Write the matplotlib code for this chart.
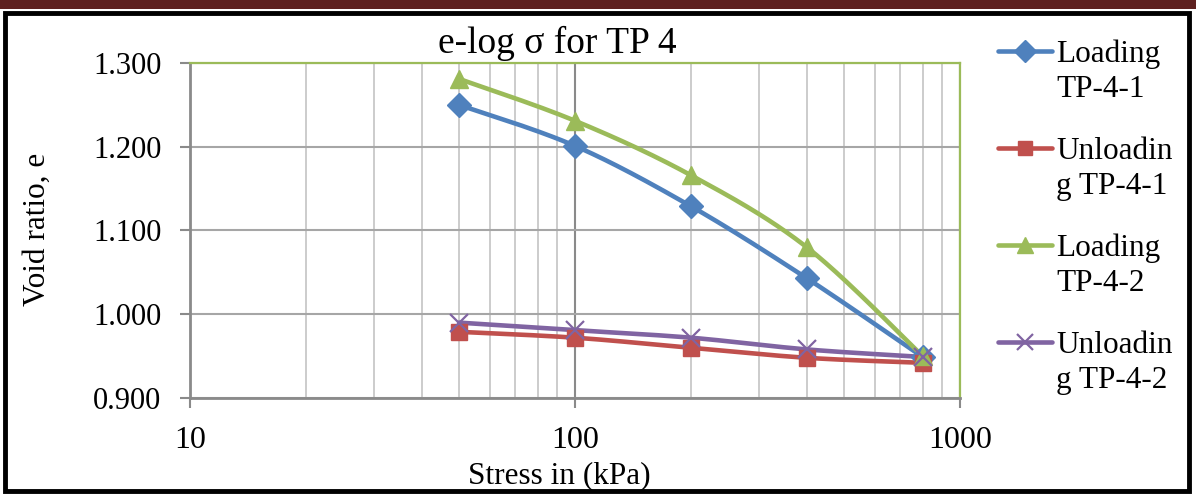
import numpy as np
import matplotlib
matplotlib.use("Agg")
import matplotlib.pyplot as plt
from matplotlib.lines import Line2D
from matplotlib.patches import Rectangle
from matplotlib.ticker import FixedLocator, NullFormatter, FuncFormatter

plt.rcParams['font.family'] = ['Liberation Serif', 'DejaVu Serif']

# Consolidation test data: applied stress (kPa) and void ratio
stress = [50, 100, 200, 400, 800]
loading_1 = [1.250, 1.201, 1.129, 1.043, 0.949]
unloading_1 = [0.979, 0.972, 0.960, 0.948, 0.942]
loading_2 = [1.281, 1.231, 1.166, 1.080, 0.950]
unloading_2 = [0.990, 0.981, 0.972, 0.958, 0.949]

series_labels = ["Loading\nTP-4-1", "Unloadin\ng TP-4-1", "Loading\nTP-4-2", "Unloadin\ng TP-4-2"]
series_colors = ["#4F81BD", "#C0504D", "#9BBB59", "#8064A2"]
series_markers = ["D", "s", "^", "x"]
series_msize = [12, 11.5, 13, 12.5]

x_ticks = [10, 100, 1000]
y_ticks = [0.900, 1.000, 1.100, 1.200, 1.300]
XLIM = (10, 1000)
YLIM = (0.9, 1.3)

W, H = 1196, 495
fig = plt.figure(figsize=(W / 100, H / 100), dpi=100)
ax = fig.add_axes([190 / W, 1 - 398 / H, 770 / W, 335 / H])


def smooth(xs, ys, n=40):
    """Bezier smoothing (Catmull-Rom control points) in display-proportional space."""
    lx0, lx1 = np.log10(XLIM[0]), np.log10(XLIM[1])
    u = (np.log10(xs) - lx0) / (lx1 - lx0) * 770
    v = (np.asarray(ys) - YLIM[0]) / (YLIM[1] - YLIM[0]) * 335
    P = np.column_stack([u, v])
    out = [P[0]]
    m = len(P)
    for i in range(m - 1):
        p0 = P[i - 1] if i > 0 else P[i]
        p1 = P[i]
        p2 = P[i + 1]
        p3 = P[i + 2] if i + 2 < m else P[i + 1]
        c1 = p1 + (p2 - p0) / 6.0
        c2 = p2 - (p3 - p1) / 6.0
        t = np.linspace(0, 1, n)[1:, None]
        seg = ((1 - t) ** 3) * p1 + 3 * ((1 - t) ** 2) * t * c1 + 3 * (1 - t) * t ** 2 * c2 + t ** 3 * p2
        out.extend(seg)
    out = np.array(out)
    sx = 10 ** (out[:, 0] / 770 * (lx1 - lx0) + lx0)
    sy = out[:, 1] / 335 * (YLIM[1] - YLIM[0]) + YLIM[0]
    return sx, sy


def marker_kw(mk, col):
    return dict(mew=1.6) if mk == "x" else dict(mec=col)


all_series = [loading_1, unloading_1, loading_2, unloading_2]
for vals, col, mk, ms in zip(all_series, series_colors, series_markers, series_msize):
    sx, sy = smooth(stress, vals)
    ax.plot(sx, sy, color=col, lw=3.3, solid_capstyle='round', zorder=3)
    ax.plot(stress, vals, linestyle='none', marker=mk, color=col, ms=ms, zorder=4,
            **marker_kw(mk, col))

ax.set_xscale('log')
ax.set_xlim(*XLIM)
ax.set_ylim(*YLIM)

ax.xaxis.set_major_locator(FixedLocator(x_ticks))
ax.xaxis.set_major_formatter(FuncFormatter(lambda v, p: f"{v:g}"))
minor_x = [m * d for d in (10, 100) for m in range(2, 10)]
ax.xaxis.set_minor_locator(FixedLocator(minor_x))
ax.xaxis.set_minor_formatter(NullFormatter())
ax.yaxis.set_major_locator(FixedLocator(y_ticks))
ax.yaxis.set_major_formatter(FuncFormatter(lambda v, p: f"{v:.3f}"))

ax.grid(which='major', axis='x', color='#8a8a8a', lw=1.5)
ax.grid(which='minor', axis='x', color='#c4c4c4', lw=1.2)
ax.grid(which='major', axis='y', color='#a6a6a6', lw=1.5)
ax.set_axisbelow(True)

ax.tick_params(axis='both', which='major', direction='out', length=7.5, width=1.5,
               color='#8a8a8a')
ax.tick_params(axis='y', which='major', labelsize=22, pad=13)
ax.tick_params(axis='x', which='major', labelsize=23, pad=13)
ax.tick_params(axis='x', which='minor', length=0)

for side in ('top', 'right'):
    ax.spines[side].set_color('#9BBB59')
    ax.spines[side].set_linewidth(1.6)
for side in ('left', 'bottom'):
    ax.spines[side].set_color('#8a8a8a')
    ax.spines[side].set_linewidth(2.0)

fig.text(559 / W, 1 - 476 / H, "Stress in (kPa)", fontsize=22.5, ha='center', va='center')
fig.text(37 / W, 1 - 229 / H, "Void ratio, e", fontsize=22.5, ha='center', va='center',
         rotation=90)
fig.text(557 / W, 1 - 53 / H, "e-log σ for TP 4", fontsize=27, ha='center', va='baseline')

# Legend drawn beside the plot area
leg_y = [51, 148, 245, 342]
for lab, col, mk, ms, yy in zip(series_labels, series_colors, series_markers, series_msize, leg_y):
    fy = 1 - yy / H
    xs = np.array([998, 1025, 1052]) / W
    fig.add_artist(Line2D(xs, [fy] * 3, transform=fig.transFigure, color=col, lw=3.3,
                          solid_capstyle='round'))
    fig.add_artist(Line2D([xs[1]], [fy], transform=fig.transFigure, linestyle='none',
                          marker=mk, color=col, ms=ms - 1, **marker_kw(mk, col)))
    for k, line in enumerate(lab.split("\n")):
        fig.text(1056 / W, 1 - (yy + 11 + 35 * k) / H, line, fontsize=22.5,
                 ha='left', va='baseline')

# Page frame: dark band at the top and black border
fig.add_artist(Rectangle((0, 1 - 9 / H), 1, 9 / H, transform=fig.transFigure,
                         facecolor='#5E2120', edgecolor='none'))
fig.add_artist(Rectangle((5 / W, 4 / H), 1184 / W, (1 - 13 / H - 4 / H),
                         transform=fig.transFigure, facecolor='none',
                         edgecolor='black', lw=3.5))

fig.savefig("out.png", dpi=100)
